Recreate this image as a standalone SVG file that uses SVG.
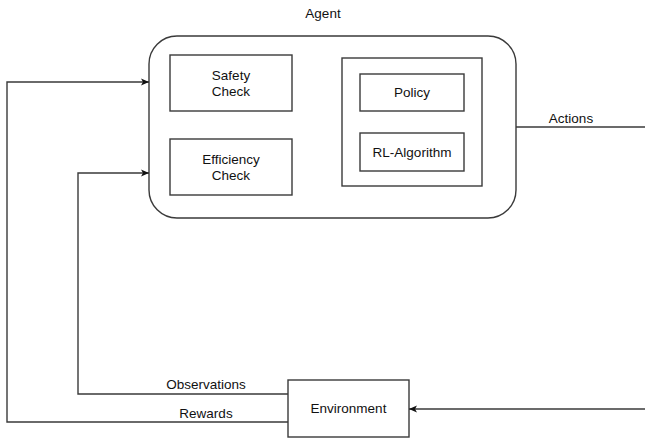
<svg xmlns="http://www.w3.org/2000/svg" width="645" height="439" viewBox="0 0 645 439">
  <style>
    .box { fill: #ffffff; stroke: #3a3a3a; stroke-width: 1.4; }
    .wire { fill: none; stroke: #3a3a3a; stroke-width: 1.4; }
    .lbl { font-family: "Liberation Sans", Arial, sans-serif; font-size: 13.5px; fill: #111111; }
    .mid { text-anchor: middle; }
  </style>
  <defs>
    <marker id="arrow" markerWidth="10" markerHeight="10" refX="9" refY="5" orient="auto" markerUnits="userSpaceOnUse">
      <path d="M1,1.5 L9,5 L1,8.5 L3,5 Z" fill="#111111"/>
    </marker>
  </defs>
  <rect width="645" height="439" fill="#ffffff"/>

  <g id="agent">
    <text class="lbl mid" x="323" y="18">Agent</text>
    <rect class="box" x="149" y="36" width="367" height="182" rx="28" ry="28"/>
  </g>
  <g id="safety-check">
    <rect class="box" x="170" y="55" width="122" height="56"/>
    <text class="lbl mid" x="231" y="80">Safety</text>
    <text class="lbl mid" x="231" y="96">Check</text>
  </g>
  <g id="efficiency-check">
    <rect class="box" x="170" y="139" width="122" height="56"/>
    <text class="lbl mid" x="231" y="164">Efficiency</text>
    <text class="lbl mid" x="231" y="180">Check</text>
  </g>
  <g id="learner">
    <rect class="box" x="342" y="58" width="140" height="128"/>
  </g>
  <g id="policy">
    <rect class="box" x="360" y="74" width="104" height="37"/>
    <text class="lbl mid" x="412" y="97">Policy</text>
  </g>
  <g id="rl-algorithm">
    <rect class="box" x="360" y="133" width="104" height="38"/>
    <text class="lbl mid" x="412" y="157">RL-Algorithm</text>
  </g>
  <g id="environment">
    <rect class="box" x="288" y="380" width="121" height="57"/>
    <text class="lbl mid" x="348.5" y="413">Environment</text>
  </g>

  <g id="connectors">
    <path class="wire" d="M516,127 H645"/>
    <path class="wire" d="M645,409 H409" marker-end="url(#arrow)"/>
    <path class="wire" d="M288,394 H78 V173 H149" marker-end="url(#arrow)"/>
    <path class="wire" d="M288,422 H7 V82 H149" marker-end="url(#arrow)"/>
    <text class="lbl mid" x="571" y="123">Actions</text>
    <text class="lbl mid" x="206" y="389">Observations</text>
    <text class="lbl mid" x="206" y="418">Rewards</text>
  </g>
</svg>
